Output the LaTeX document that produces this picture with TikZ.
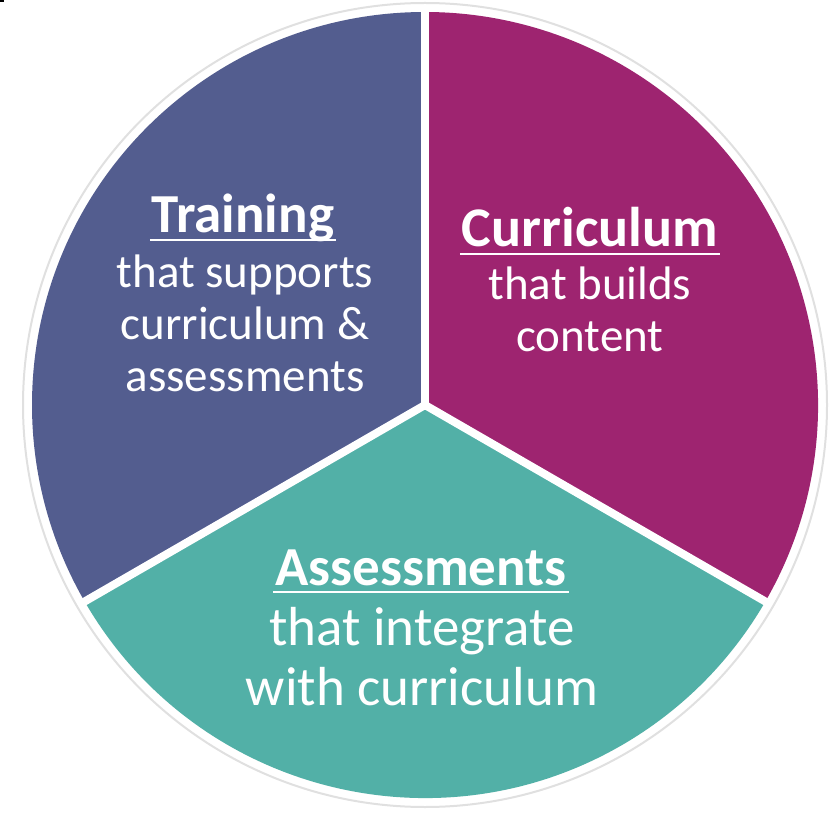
\documentclass[tikz,border=0pt]{standalone}
\usepackage{fontspec}
\setmainfont{Carlito}
\definecolor{trainblue}{RGB}{83,93,143}
\definecolor{currmagenta}{RGB}{158,36,112}
\definecolor{assessteal}{RGB}{82,176,167}
\tikzset {
    rim/.style = {fill = white, draw = black!12, line width = 2pt},
    divider/.style = {white, line width = 8pt},
    title/.style = {text = white, inner sep = 0pt, anchor = base,
        font = \fontsize{55}{62}\selectfont\bfseries},
    title wide/.style = {title, font = \fontsize{56}{62}\selectfont\bfseries},
    body/.style = {text = white, inner sep = 0pt, anchor = north, align = center,
        font = \fontsize{47}{52}\selectfont},
    body big/.style = {body, font = \fontsize{55}{60}\selectfont},
    underlined/.style = {white, line width = 2.5pt}
}

\begin{document}
\begin{tikzpicture}[x = 1pt, y = 1pt]
    \useasboundingbox (0, 0) rectangle (837, 812);
    \fill [black] (0, 812) rectangle (4, 810);
    \coordinate (c) at (425, 407);
    \draw [rim] (c) circle (402);
    \fill [trainblue] (c) -- ++(90:393)
        arc [start angle = 90, end angle = 210, radius = 393] -- cycle;
    \fill [assessteal] (c) -- ++(210:393)
        arc [start angle = 210, end angle = 330, radius = 393] -- cycle;
    \fill [currmagenta] (c) -- ++(330:393)
        arc [start angle = -30, end angle = 90, radius = 393] -- cycle;
    \foreach \a in {90, 210, 330}
        \draw [divider] (c) -- ++(\a:398);
    %
    \node (ttrain) [title] at (243, 579) {Training};
    \draw [underlined] ([xshift = -2pt, yshift = -7pt]ttrain.base west)
        -- ([xshift = 2pt, yshift = -7pt]ttrain.base east);
    \node (btrain) [body] at (245, 557) {that supports\\curriculum \&\\assessments};
    %
    \node (tcurr) [title wide] at (590, 565) {Curriculum};
    \draw [underlined] ([xshift = -2pt, yshift = -7pt]tcurr.base west)
        -- ([xshift = 2pt, yshift = -7pt]tcurr.base east);
    \node (bcurr) [body] at (590, 545) {that builds\\content};
    %
    \node (tassess) [title] at (421, 227) {Assessments};
    \draw [underlined] ([xshift = -2pt, yshift = -7pt]tassess.base west)
        -- ([xshift = 2pt, yshift = -7pt]tassess.base east);
    \node (bassess) [body big] at (422, 205) {that integrate\\with curriculum};
\end{tikzpicture}
\end{document}
